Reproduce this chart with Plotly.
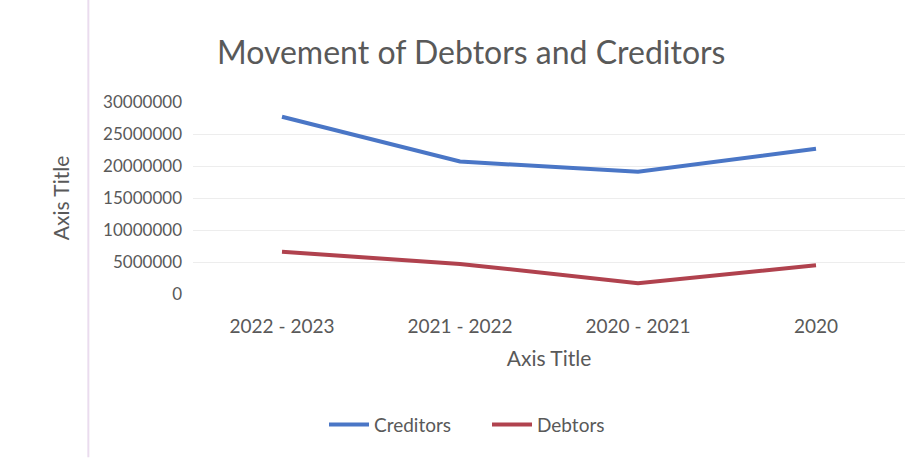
import plotly.graph_objects as go

categories = ["2022 - 2023", "2021 - 2022", "2020 - 2021", "2020"]
creditors = [27700000, 20700000, 19100000, 22700000]
debtors = [6600000, 4700000, 1700000, 4500000]
y_ticks = [0, 5000000, 10000000, 15000000, 20000000, 25000000, 30000000]

font_family = "Lato, 'Open Sans', sans-serif"
gray = "#595959"

fig = go.Figure()
fig.add_trace(go.Scatter(x=categories, y=creditors, mode="lines", name="Creditors",
                         line=dict(color="#4A76C6", width=4)))
fig.add_trace(go.Scatter(x=categories, y=debtors, mode="lines", name="Debtors",
                         line=dict(color="#B0424E", width=4)))

fig.update_layout(
    width=915, height=458,
    margin=dict(l=193, r=10, t=102, b=164),
    paper_bgcolor="white", plot_bgcolor="white",
    font=dict(family=font_family, color=gray, size=16),
    title=dict(text="Movement of Debtors and Creditors", x=0.515, xanchor="center",
               y=0.885, yanchor="middle", font=dict(size=32, color="#595959")),
    showlegend=True,
    legend=dict(orientation="h", x=0.184, xanchor="left", y=-0.68, yanchor="middle",
                font=dict(size=19, color=gray), itemwidth=40,
                entrywidth=108, entrywidthmode="pixels"),
    shapes=[dict(type="line", xref="paper", yref="paper", x0=-0.147, x1=-0.147,
                 y0=-0.85, y1=1.55, line=dict(color="#EADCEE", width=2))],
)
fig.update_xaxes(type="category", range=[-0.5, 3.5], showgrid=False, zeroline=False,
                 showline=False, ticks="", ticklabelstandoff=19,
                 tickfont=dict(size=19, color=gray),
                 title=dict(text="Axis Title", font=dict(size=21, color=gray), standoff=15))
fig.update_yaxes(range=[0, 30000000], tickvals=y_ticks, tickformat="d",
                 showgrid=True, gridcolor="#EDEDED", gridwidth=1, zeroline=False,
                 showline=False, ticks="", ticklabelstandoff=10,
                 tickfont=dict(size=17, color=gray),
                 title=dict(text="Axis Title", font=dict(size=21, color=gray), standoff=27))

fig.write_html("out.html")
